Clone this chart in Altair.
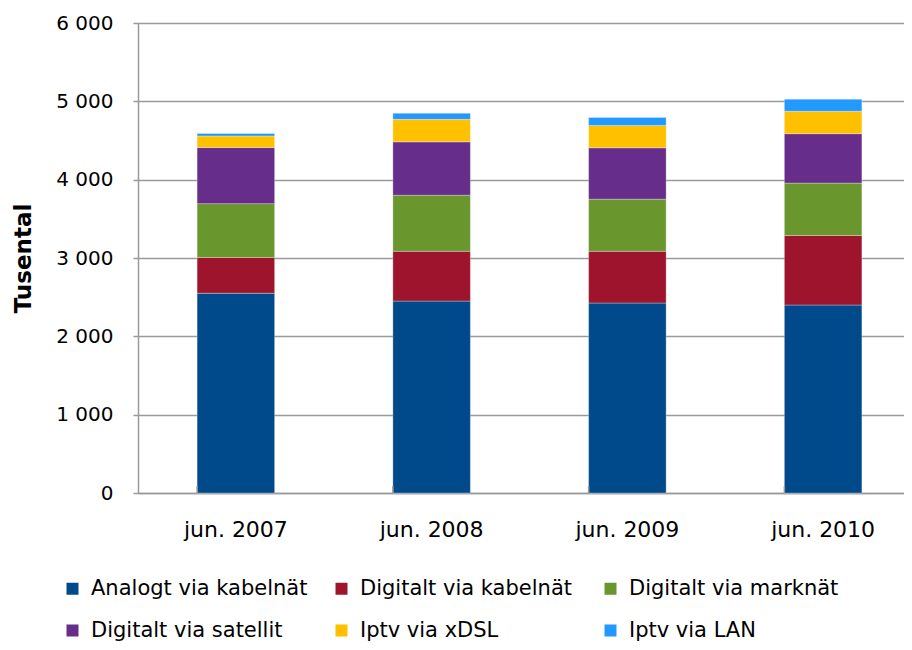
import altair as alt
import pandas as pd

periods = ["jun. 2007", "jun. 2008", "jun. 2009", "jun. 2010"]
series = [
    "Analogt via kabelnät",
    "Digitalt via kabelnät",
    "Digitalt via marknät",
    "Digitalt via satellit",
    "Iptv via xDSL",
    "Iptv via LAN",
]
analog_kabel = [2550, 2450, 2425, 2400]
digital_kabel = [457, 636, 661, 887]
digital_mark = [687, 716, 665, 669]
digital_sat = [716, 681, 656, 631]
iptv_xdsl = [148, 287, 286, 286]
iptv_lan = [31, 77, 102, 154]
colors = ["#004A8C", "#9E142D", "#6A962E", "#662D8A", "#FFC000", "#2299FF"]
y_ticks = [0, 1000, 2000, 3000, 4000, 5000, 6000]

all_values = [analog_kabel, digital_kabel, digital_mark, digital_sat, iptv_xdsl, iptv_lan]
rows = []
for i, (name, vals) in enumerate(zip(series, all_values)):
    for p, v in zip(periods, vals):
        rows.append({"period": p, "series": name, "value": v, "order": i})
df = pd.DataFrame(rows)
df_periods = pd.DataFrame({"period": periods})

FONT = "DejaVu Sans"
GRID = "#9A9A9A"
W, H = 766, 470

x_scale = alt.Scale(domain=periods, range=[0, 783], paddingInner=0.604, paddingOuter=0.302)
x_axis = alt.Axis(
    title=None, labelAngle=0, labelFontSize=22, labelFont=FONT, labelColor="black",
    labelPadding=26, ticks=False, domainColor=GRID, domainWidth=1.5,
)

bars = alt.Chart(df).mark_bar(stroke="white", strokeWidth=0.6, strokeOpacity=0.5).encode(
    x=alt.X("period:N", sort=periods, scale=x_scale, axis=x_axis),
    y=alt.Y(
        "value:Q", stack="zero",
        scale=alt.Scale(domain=[0, 6000], nice=False),
        axis=alt.Axis(
            values=y_ticks, labelExpr="replace(format(datum.value, ','), ',', ' ')",
            title="Tusental", titleFontSize=23, titleFontWeight="bold", titleFont=FONT,
            titleColor="black", titlePadding=20,
            labelFontSize=20, labelFont=FONT, labelColor="black", labelPadding=20,
            grid=True, gridColor=GRID, gridWidth=1.5,
            tickColor=GRID, tickSize=5, tickWidth=1.5,
            domainColor=GRID, domainWidth=1.5,
        ),
    ),
    color=alt.Color(
        "series:N", sort=series,
        scale=alt.Scale(domain=series, range=colors),
        legend=alt.Legend(
            title=None, orient="none", direction="horizontal",
            legendX=-76, legendY=555, columns=3,
            gridAlign="all", columnPadding=23, rowPadding=20,
            symbolType="square", symbolSize=144, symbolStrokeWidth=0, symbolOffset=0,
            labelFontSize=21, labelFont=FONT, labelColor="black", labelOffset=8,
            labelLimit=400,
        ),
    ),
    order=alt.Order("order:Q", sort="ascending"),
)

ticks = alt.Chart(df_periods).mark_rule(color=GRID, strokeWidth=1.5).encode(
    x=alt.X("period:N", sort=periods, scale=x_scale, axis=x_axis, bandPosition=0),
    y=alt.value(H - 7),
    y2=alt.value(H),
)

chart = alt.layer(bars, ticks).properties(
    width=W, height=H,
    padding={"left": 130, "top": 15, "right": 0, "bottom": 149},
    autosize=alt.AutoSizeParams(type="none"),
).configure_view(stroke=None)

chart.save("out.html", embed_options={"renderer": "svg", "actions": False})
